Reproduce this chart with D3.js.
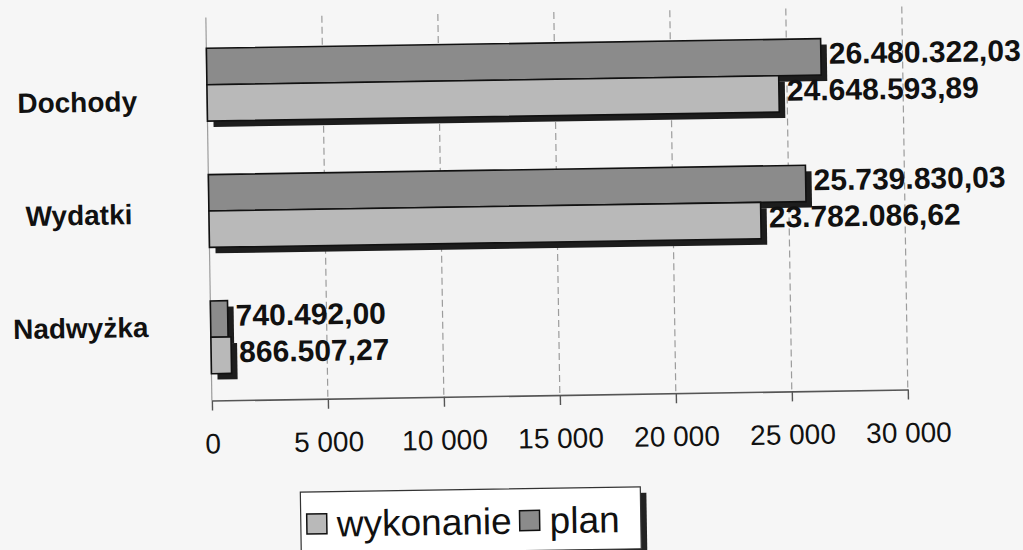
<!DOCTYPE html>
<html>
<head>
<meta charset="utf-8">
<script src="https://cdn.jsdelivr.net/npm/d3@7"></script>
<style>
  html, body { margin: 0; padding: 0; background: #f6f6f6; }
  svg { display: block; font-family: "Liberation Sans", Arial, sans-serif; }
</style>
</head>
<body>
<script>
// ---- data ----
const categories = ["Dochody", "Wydatki", "Nadwyżka"];
const planValues = [26480322.03, 25739830.03, 740492.00];
const wykonanieValues = [24648593.89, 23782086.62, 866507.27];
const seriesKeys = ["plan", "wykonanie"];
const legendLabels = ["wykonanie", "plan"];
const tickValues = [0, 5000, 10000, 15000, 20000, 25000, 30000];

// ---- styles ----
const fillColor = { plan: "#8b8b8b", wykonanie: "#b9b9b9" };

const plLocale = d3.formatLocale({ decimal: ",", thousands: ".", grouping: [3], currency: ["", ""] });
const valueFmt = plLocale.format(",.2f");
const tickLocale = d3.formatLocale({ decimal: ",", thousands: " ", grouping: [3], currency: ["", ""] });
const tickFmt = tickLocale.format(",d");

const W = 1023, H = 550;
const svg = d3.select("body").append("svg").attr("width", W).attr("height", H);
svg.append("rect").attr("width", W).attr("height", H).attr("fill", "#f6f6f6");

const g = svg.append("g").attr("transform", "rotate(-0.9,560,215)");

const x = d3.scaleLinear().domain([0, 30000]).range([209, 905]);
const y = d3.scaleBand().domain(categories).range([16, 395]).paddingInner(0.424).paddingOuter(0.212);
const sub = d3.scaleBand().domain(seriesKeys).range([0, y.bandwidth()]);

// gridlines
g.append("g").selectAll("line").data(tickValues).join("line")
  .attr("x1", d => x(d)).attr("x2", d => x(d))
  .attr("y1", 12).attr("y2", 395)
  .attr("stroke", "#9c9c9c").attr("stroke-width", 1.2)
  .attr("stroke-dasharray", d => d === 0 ? null : "7,4");

const bars = [];
categories.forEach((c, i) => {
  bars.push({ cat: c, key: "plan", value: planValues[i] });
  bars.push({ cat: c, key: "wykonanie", value: wykonanieValues[i] });
});

// shadows
g.append("g").selectAll("rect").data(bars).join("rect")
  .attr("x", x(0) + 6)
  .attr("y", d => y(d.cat) + sub(d.key) + 6)
  .attr("width", d => x(d.value / 1000) - x(0))
  .attr("height", sub.bandwidth())
  .attr("fill", "#1d1d1d");

// bars
g.append("g").selectAll("rect").data(bars).join("rect")
  .attr("x", x(0))
  .attr("y", d => y(d.cat) + sub(d.key))
  .attr("width", d => x(d.value / 1000) - x(0))
  .attr("height", sub.bandwidth())
  .attr("fill", d => fillColor[d.key])
  .attr("stroke", "#111").attr("stroke-width", 1.6);

// value labels
g.append("g").selectAll("text").data(bars).join("text")
  .attr("x", d => x(d.value / 1000) + 8)
  .attr("y", d => y(d.cat) + sub(d.key) + sub.bandwidth() / 2 + 7)
  .attr("font-size", 30).attr("font-weight", "bold").attr("fill", "#111")
  .text(d => valueFmt(d.value));

// axis
const axis = g.append("g").attr("transform", "translate(0,395)")
  .call(d3.axisBottom(x).tickValues(tickValues).tickSize(10).tickSizeOuter(0).tickPadding(23).tickFormat(tickFmt));
axis.select(".domain").attr("stroke", "#555").attr("stroke-width", 1.6);
axis.selectAll(".tick line").attr("stroke", "#555").attr("stroke-width", 1.4);
axis.selectAll(".tick text")
  .attr("font-size", 28).attr("fill", "#111")
  .attr("font-family", "'Liberation Sans', Arial, sans-serif");

// category labels
const labelY = d3.scalePoint().domain(categories).range([95, 321]);
g.append("g").selectAll("text").data(categories).join("text")
  .attr("x", 79).attr("y", d => labelY(d))
  .attr("text-anchor", "middle").attr("dominant-baseline", "central")
  .attr("font-size", 28).attr("font-weight", "bold").attr("fill", "#111")
  .text(d => d);

// legend
const lg = g.append("g");
const lx = 296, ly = 488, lw = 340, lh = 62;
lg.append("rect").attr("x", lx + 6).attr("y", ly + 6).attr("width", lw).attr("height", lh).attr("fill", "#222");
lg.append("rect").attr("x", lx).attr("y", ly).attr("width", lw).attr("height", lh)
  .attr("fill", "#ffffff").attr("stroke", "#333").attr("stroke-width", 1.2);
let cx = lx + 6;
legendLabels.forEach(k => {
  lg.append("rect").attr("x", cx).attr("y", ly + 22).attr("width", 20).attr("height", 20)
    .attr("fill", fillColor[k]).attr("stroke", "#111").attr("stroke-width", 1.5);
  const t = lg.append("text").attr("x", cx + 30).attr("y", ly + 45)
    .attr("font-size", 37).attr("fill", "#111").text(k);
  cx = cx + 30 + t.node().getComputedTextLength() + 8;
});
</script>
</body>
</html>
